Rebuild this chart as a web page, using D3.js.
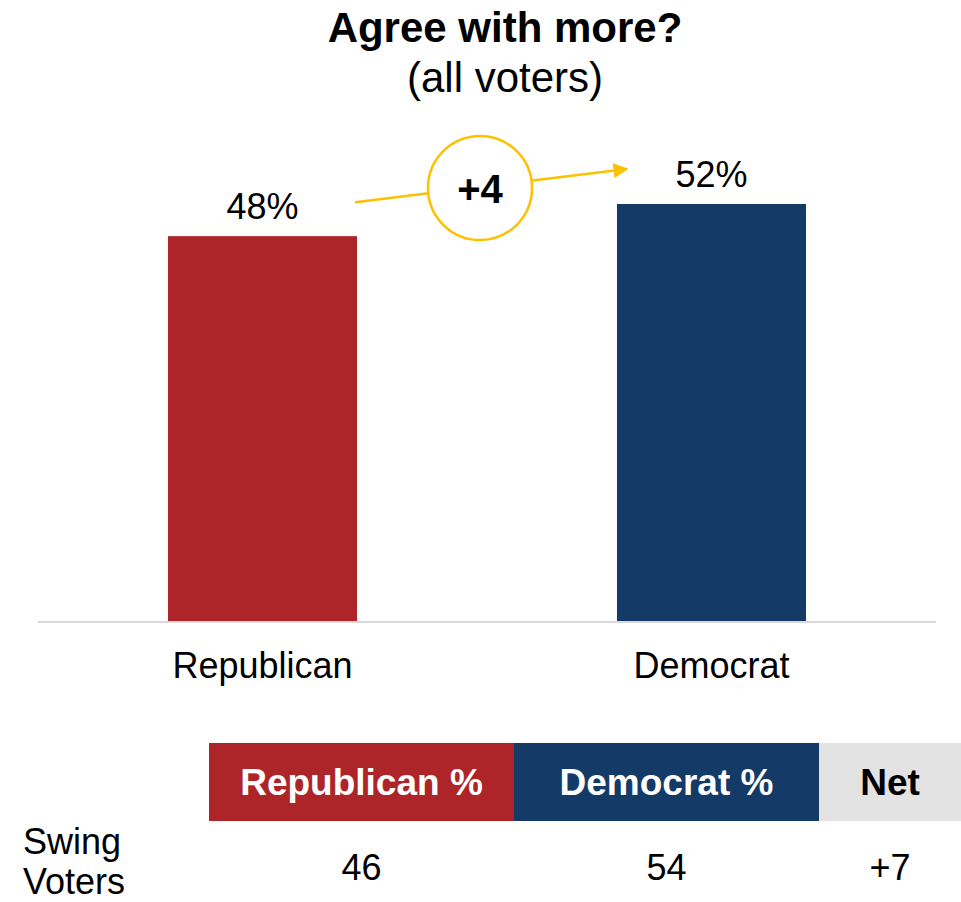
<!DOCTYPE html>
<html>
<head>
<meta charset="utf-8">
<script src="https://cdn.jsdelivr.net/npm/d3@7"></script>
<style>
  html, body { margin: 0; padding: 0; background: #fff; }
  svg { display: block; font-family: "Liberation Sans", Arial, sans-serif; }
</style>
</head>
<body>
<svg id="chart" width="961" height="902"></svg>
<script>
// ---- data ----
const title = "Agree with more?";
const subtitle = "(all voters)";
const categories = ["Republican", "Democrat"];
const values = [48, 52];
const diffLabel = "+4";
const tableHeaders = ["Republican %", "Democrat %", "Net"];
const rowLabel = ["Swing", "Voters"];
const rowValues = ["46", "54", "+7"];
const barColors = ["#AD2529", "#143A68"];
const headerColors = ["#AD2529", "#143A68", "#E3E3E3"];
const headerTextColors = ["#FFFFFF", "#FFFFFF", "#000000"];

const svg = d3.select("#chart");
const gold = "#FFC000";

// scales
const x = d3.scaleBand().domain(categories).range([38, 936])
  .paddingInner(0.579).paddingOuter(0.2895);
const y = d3.scaleLinear().domain([0, 52]).range([622, 204]);

// title
svg.append("text").attr("x", 505).attr("y", 42).attr("text-anchor", "middle")
  .attr("font-size", 42).attr("font-weight", "bold").text(title);
svg.append("text").attr("x", 505).attr("y", 92).attr("text-anchor", "middle")
  .attr("font-size", 42).text(subtitle);

// bars
svg.selectAll("rect.bar").data(categories).join("rect").attr("class", "bar")
  .attr("x", d => x(d)).attr("width", x.bandwidth())
  .attr("y", (d, i) => y(values[i])).attr("height", (d, i) => y(0) - y(values[i]))
  .attr("fill", (d, i) => barColors[i]);

// baseline axis
const axis = svg.append("g").attr("transform", `translate(0,${y(0)})`)
  .call(d3.axisBottom(x).tickSize(0).tickPadding(0));
axis.select(".domain").attr("stroke", "#D9D9D9").attr("stroke-width", 2)
  .attr("d", `M${x.range()[0]},0H${x.range()[1]}`);
axis.selectAll(".tick text").attr("font-size", 36).attr("fill", "#000")
  .attr("font-family", '"Liberation Sans", Arial, sans-serif')
  .attr("dy", 0).attr("y", 56);

// value labels
svg.selectAll("text.val").data(categories).join("text").attr("class", "val")
  .attr("x", d => x(d) + x.bandwidth() / 2)
  .attr("y", (d, i) => y(values[i]) - 17)
  .attr("text-anchor", "middle").attr("font-size", 36)
  .text((d, i) => values[i] + "%");

// arrow + circle
const defs = svg.append("defs");
defs.append("marker").attr("id", "arrow").attr("viewBox", "0 0 10 10")
  .attr("refX", 9).attr("refY", 5).attr("markerWidth", 6).attr("markerHeight", 6)
  .attr("orient", "auto").attr("markerUnits", "strokeWidth")
  .append("path").attr("d", "M0,0L10,5L0,10z").attr("fill", gold);

const x0 = x(categories[0]) + x.bandwidth() - 2, y0 = y(values[0]) - 34;
const x1 = x(categories[1]) + 10, y1 = y(values[1]) - 35;
svg.append("line").attr("x1", x0).attr("y1", y0).attr("x2", x1).attr("y2", y1)
  .attr("stroke", gold).attr("stroke-width", 2.5).attr("marker-end", "url(#arrow)");
const cx = 480, cy = 188;
svg.append("circle").attr("cx", cx).attr("cy", cy).attr("r", 52)
  .attr("fill", "#fff").attr("stroke", gold).attr("stroke-width", 2.5);
svg.append("text").attr("x", cx).attr("y", cy + 15).attr("text-anchor", "middle")
  .attr("font-size", 40).attr("font-weight", "bold").text(diffLabel);

// table
const colX = [209, 514, 819];
const colW = [305, 305, 142];
const hTop = 743, hH = 78;
svg.selectAll("rect.hdr").data(tableHeaders).join("rect").attr("class", "hdr")
  .attr("x", (d, i) => colX[i]).attr("y", hTop).attr("width", (d, i) => colW[i]).attr("height", hH)
  .attr("fill", (d, i) => headerColors[i]);
svg.selectAll("text.hdr").data(tableHeaders).join("text").attr("class", "hdr")
  .attr("x", (d, i) => colX[i] + colW[i] / 2).attr("y", hTop + hH / 2 + 13)
  .attr("text-anchor", "middle").attr("font-size", 37).attr("font-weight", "bold")
  .attr("fill", (d, i) => headerTextColors[i]).text(d => d);

svg.selectAll("text.rowv").data(rowValues).join("text").attr("class", "rowv")
  .attr("x", (d, i) => colX[i] + colW[i] / 2).attr("y", 880)
  .attr("text-anchor", "middle").attr("font-size", 36).text(d => d);

svg.selectAll("text.rowl").data(rowLabel).join("text").attr("class", "rowl")
  .attr("x", 23).attr("y", (d, i) => 854 + i * 40)
  .attr("font-size", 36).text(d => d);
</script>
</body>
</html>
